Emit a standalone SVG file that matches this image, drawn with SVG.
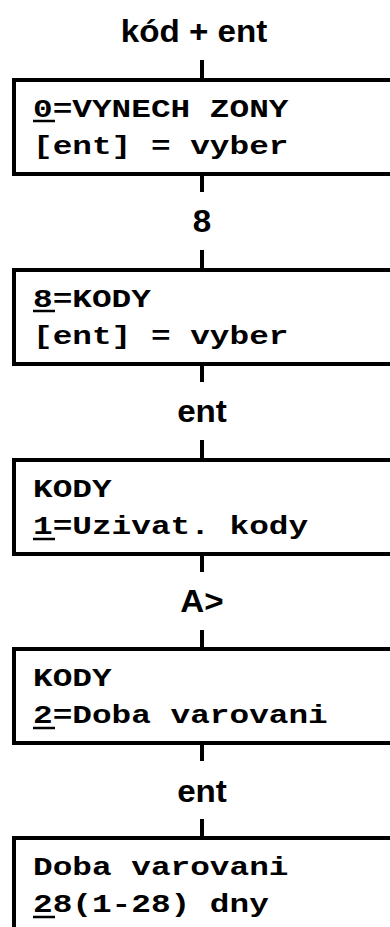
<svg xmlns="http://www.w3.org/2000/svg" width="390" height="927" viewBox="0 0 390 927">
<style>
.box{fill:#fff;stroke:#000;stroke-width:4}
.lbl{font-family:"Liberation Sans",Arial,sans-serif;font-weight:bold;font-size:31px;fill:#000;text-anchor:middle}
.mono{font-family:"Liberation Mono","Courier New",monospace;font-weight:bold;font-size:26px;fill:#000}
.con{stroke:#000;stroke-width:4;fill:none}
.ul{stroke:#000;stroke-width:2.5}
</style>
<rect width="390" height="927" fill="#fff"/>
<g id="connectors">
<line class="con" x1="202" y1="60" x2="202" y2="80"/>
<line class="con" x1="202" y1="174" x2="202" y2="192"/>
<line class="con" x1="202" y1="250" x2="202" y2="270"/>
<line class="con" x1="202" y1="364" x2="202" y2="382"/>
<line class="con" x1="202" y1="440" x2="202" y2="460"/>
<line class="con" x1="202" y1="554" x2="202" y2="572"/>
<line class="con" x1="202" y1="630" x2="202" y2="649"/>
<line class="con" x1="202" y1="743" x2="202" y2="761"/>
<line class="con" x1="202" y1="819" x2="202" y2="838"/>
</g>
<g id="label-kod"><text class="lbl" transform="translate(194,42) scale(1.07,1)">kód + ent</text></g>
<g id="label-8"><text class="lbl" transform="translate(202,232) scale(1.07,1)">8</text></g>
<g id="label-ent1"><text class="lbl" transform="translate(202,422) scale(1.07,1)">ent</text></g>
<g id="label-A"><text class="lbl" transform="translate(202,612) scale(1.07,1)">A&gt;</text></g>
<g id="label-ent2"><text class="lbl" transform="translate(202,802) scale(1.07,1)">ent</text></g>

<g id="box1">
<rect class="box" x="14" y="80" width="400" height="94"/>
<g transform="translate(33,0) scale(1.26,1)">
<text class="mono" x="0" y="117" xml:space="preserve">0=VYNECH ZONY</text>
<text class="mono" x="0" y="154" xml:space="preserve">[ent] = vyber</text>
</g>
<line class="ul" x1="33" y1="121" x2="55" y2="121"/>
</g>
<g id="box2">
<rect class="box" x="14" y="270" width="400" height="94"/>
<g transform="translate(33,0) scale(1.26,1)">
<text class="mono" x="0" y="307">8=KODY</text>
<text class="mono" x="0" y="344" xml:space="preserve">[ent] = vyber</text>
</g>
<line class="ul" x1="33" y1="311" x2="55" y2="311"/>
</g>
<g id="box3">
<rect class="box" x="14" y="460" width="400" height="94"/>
<g transform="translate(33,0) scale(1.26,1)">
<text class="mono" x="0" y="497">KODY</text>
<text class="mono" x="0" y="534" xml:space="preserve">1=Uzivat. kody</text>
</g>
<line class="ul" x1="33" y1="539" x2="55" y2="539"/>
</g>
<g id="box4">
<rect class="box" x="14" y="649" width="400" height="94"/>
<g transform="translate(33,0) scale(1.26,1)">
<text class="mono" x="0" y="686">KODY</text>
<text class="mono" x="0" y="723" xml:space="preserve">2=Doba varovani</text>
</g>
<line class="ul" x1="33" y1="728" x2="55" y2="728"/>
</g>
<g id="box5">
<rect class="box" x="14" y="838" width="400" height="120"/>
<g transform="translate(33,0) scale(1.26,1)">
<text class="mono" x="0" y="875" xml:space="preserve">Doba varovani</text>
<text class="mono" x="0" y="912" xml:space="preserve">28(1-28) dny</text>
</g>
<line class="ul" x1="33" y1="917" x2="55" y2="917"/>
</g>
</svg>
